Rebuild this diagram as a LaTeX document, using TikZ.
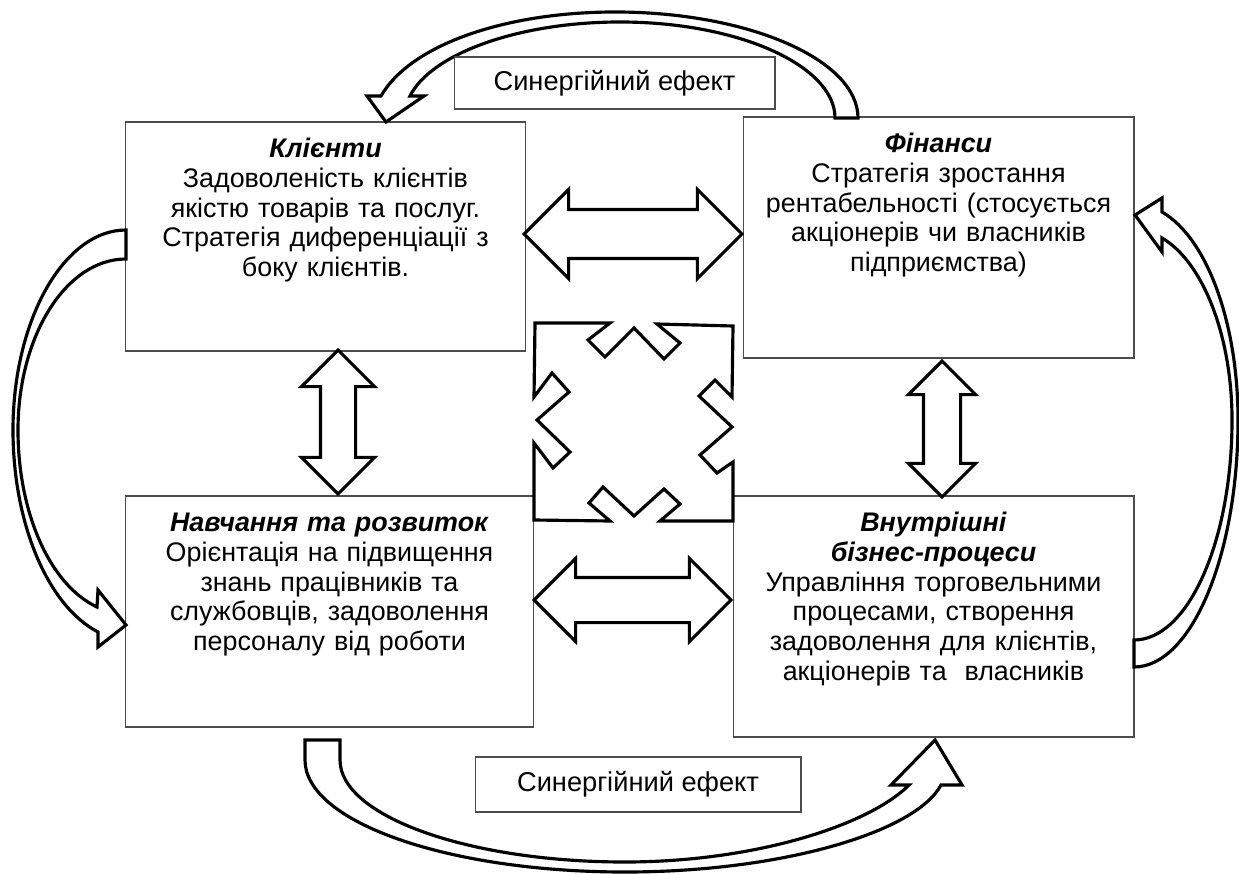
\documentclass[tikz,border=0pt]{standalone}
\usepackage{fontspec}
\setmainfont{Liberation Sans}
\usetikzlibrary{shapes.arrows}
\usetikzlibrary{positioning}

\begin{document}
\begin{tikzpicture}[x=0.02cm,y=-0.02cm,
	box/.style={draw=black!70,line width=0.6pt,inner sep=0pt},
	boxtext/.style={align=center,text width=7.6cm,inner sep=0pt,
		font={\fontsize{15.3}{17}\selectfont\setlength{\normalbaselineskip}{17pt}}},
	fat/.style={draw=black,line width=1.8pt,fill=white},
	dblarrow/.style 2 args={fat,shape=double arrow,inner xsep=0pt,inner ysep=#1,double arrow head extend=#2}]
	\useasboundingbox (0,0) rectangle (1239,874);

	% the four boxes
	\node (klienty) [box,minimum width=8.02cm,minimum height=4.58cm] at (325.5,236.5) {};
	\node (klienty-t) [boxtext,below=0.32cm of klienty.north] {\textbf{\textit{Клієнти}}\\Задоволеність клієнтів\\якістю товарів та послуг.\\Стратегія диференціації з\\боку клієнтів.};
	\node (finansy) [box,minimum width=7.82cm,minimum height=4.82cm] at (938.5,237.5) {};
	\node (finansy-t) [boxtext,below=0.32cm of finansy.north] {\textbf{\textit{Фінанси}}\\Стратегія зростання\\рентабельності (стосується\\акціонерів чи власників\\підприємства)};
	\node (navch) [box,minimum width=8.18cm,minimum height=4.62cm] at (329.5,611.5) {};
	\node (navch-t) [boxtext,below=0.34cm of navch.north] {\textbf{\textit{Навчання та розвиток}}\\Орієнтація на підвищення\\знань працівників та\\службовців, задоволення\\персоналу від роботи};
	\node (vnutr) [box,minimum width=8.02cm,minimum height=4.82cm] at (933.5,616.5) {};
	\node (vnutr-t) [boxtext,below=0.32cm of vnutr.north] {\textbf{\textit{Внутрішні}}\\\textbf{\textit{бізнес-процеси}}\\Управління торговельними\\процесами, створення\\задоволення для клієнтів,\\акціонерів та~ власників};

	% straight double arrows
	\node (kl-fin) [dblarrow={0.46cm}{0.4cm},minimum height=4.36cm] at (633,234) {};
	\node (nav-vn) [dblarrow={0.42cm}{0.38cm},minimum height=3.94cm] at (632.5,600) {};
	\node (kl-nav) [dblarrow={0.32cm}{0.38cm},minimum height=2.88cm,rotate=90] at (338,422) {};
	\node (fin-vn) [dblarrow={0.34cm}{0.3cm},minimum height=2.72cm,rotate=90] at (942,429) {};

	% middle cross
	\draw[fat] (535,323) -- (610,323) -- (588,340) -- (605,357) -- (634,328) -- (664,359) -- (680,343) -- (657,324)
		-- (733,326) -- (732,397) -- (715,380) -- (699,396) -- (732,427) -- (700,455) -- (717,473) -- (733,462)
		-- (733,521) -- (660,521) -- (680,504) -- (664,489) -- (634,516) -- (603,487) -- (589,503) -- (610,521)
		-- (534,520) -- (534,443) -- (553,468) -- (570,452) -- (537,420) -- (569,392) -- (552,373) -- (534,397) -- cycle;

	% curved arrows
	\draw[fat] (858,118) .. controls (858,60) and (749,12) .. (615,12) .. controls (507,12) and (411,44) .. (381,96)
		-- (367,96) -- (386,122) -- (424,96) -- (410,96)
		.. controls (431,54) and (518,22) .. (620,22) .. controls (739,22) and (835,66) .. (835,118) -- cycle;
	\draw[fat] (126,230) .. controls (64,230) and (13,320) .. (13,430) .. controls (13,524) and (48,606) .. (98,632)
		-- (98,647) -- (126,625) -- (98,590) -- (97,607)
		.. controls (50,585) and (18,513) .. (18,430) .. controls (18,336) and (66,259) .. (126,259) -- cycle;
	\draw[fat] (1134,667) .. controls (1191,667) and (1238,556) .. (1238,420) .. controls (1238,323) and (1207,238) .. (1162,212)
		-- (1162,198) -- (1135,215) -- (1162,252) -- (1162,238)
		.. controls (1203,262) and (1232,336) .. (1232,420) .. controls (1232,541) and (1188,640) .. (1134,640) -- cycle;
	\draw[fat] (305,740) -- (305,760) .. controls (305,822) and (448,872) .. (625,872) .. controls (782,872) and (916,832) .. (941,785)
		-- (962,785) -- (935,740) -- (891,785) -- (909,785)
		.. controls (868,826) and (753,862) .. (625,862) .. controls (468,862) and (340,816) .. (340,760) -- (340,740) -- cycle;

	% labels
	\node (syn-top) [box,font=\fontsize{15.5}{18}\selectfont,minimum width=6.42cm,minimum height=1.04cm] at (614.5,83) {Синергійний ефект};
	\node (syn-bot) [box,font=\fontsize{15.5}{18}\selectfont,minimum width=6.52cm,minimum height=1.1cm] at (638,784.5) {Синергійний ефект};
\end{tikzpicture}
\end{document}
